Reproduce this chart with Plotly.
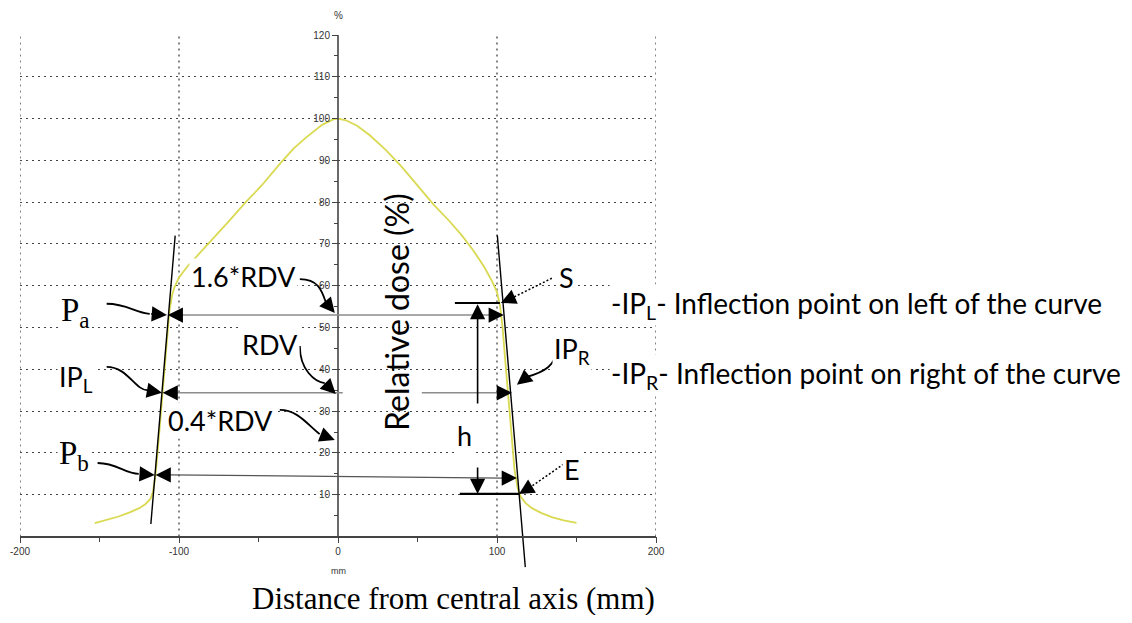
import plotly.graph_objects as go

# ---------------- data ----------------
pos_mm = [-153, -145, -138, -131, -125, -121, -118, -116.5, -115, -113.5, -112, -110.5,
          -109, -107.5, -106, -104.5, -103, -100, -95, -87, -78, -68, -58, -48, -37,
          -28, -20, -10, -3, 0, 5, 12, 20, 30, 40, 50, 60, 70, 78, 85, 92, 97, 100,
          102, 103.5, 105, 106.5, 108, 109.5, 111, 113, 115, 118, 122, 128, 135, 142, 150]
dose_pct = [3.2, 4.0, 4.8, 5.8, 6.8, 7.8, 9.0, 10.5, 14, 20, 27, 34,
            41, 48, 54, 57.5, 59.5, 62, 64.5, 67.8, 71.5, 75.7, 80, 84, 89,
            92.8, 95.5, 98.5, 99.8, 100, 99.6, 98.3, 96, 92.5, 88.5, 84, 79.5, 75.5, 72, 68.5, 64.5, 61, 58.5,
            55, 50, 43, 36, 29, 22, 16, 11.5, 9.5, 8, 6.8, 5.6, 4.6, 3.9, 3.3]

x_tick_vals = [-200, -100, 0, 100, 200]
x_tick_text = ["-200", "-100", "0", "100", "200"]
x_minor_vals = [-150, -50, 50, 150]
y_tick_vals = [10, 20, 30, 40, 50, 60, 70, 80, 90, 100, 110, 120]
y_tick_text = ["10", "20", "30", "40", "50", "60", "70", "80", "90", "100", "110", "120"]
y_minor_vals = [5, 15, 25, 35, 45, 55, 65, 75, 85, 95, 105, 115]
x_grid_vals = [-200, -100, 100, 200]

x_range = [-200, 200]
y_range = [-8, 120]

# tangent lines through the penumbra (x list, y list)
tangent_left_x = [-102.4, -117.7]
tangent_left_y = [72.0, 3.0]
tangent_right_x = [100.2, 117.8]
tangent_right_y = [72.1, -7.3]

# reference dose levels (%)
level_16 = 53.0      # 1.6*RDV
level_rdv = 34.4     # RDV
level_04 = [14.75, 14.0]  # 0.4*RDV (left, right end)
level_S = 55.9
level_E = 10.2

# ---------------- figure ----------------
fig = go.Figure()

fig.add_trace(go.Scatter(x=pos_mm, y=dose_pct, mode="lines",
                         line=dict(color="#d9d952", width=1.8), hoverinfo="skip"))
fig.add_trace(go.Scatter(x=tangent_left_x, y=tangent_left_y, mode="lines",
                         line=dict(color="black", width=1.4), hoverinfo="skip"))
fig.add_trace(go.Scatter(x=tangent_right_x, y=tangent_right_y, mode="lines",
                         line=dict(color="black", width=1.4), hoverinfo="skip"))

grid_dash = "2px,4px"

# vertical grid lines (from 0 to 120 only)
for gx in x_grid_vals:
    fig.add_shape(type="line", xref="x", yref="y", x0=gx, x1=gx, y0=0, y1=y_tick_vals[-1],
                  line=dict(color="#444", width=1.3, dash=grid_dash), layer="below")
# y axis line at x = 0
fig.add_shape(type="line", xref="x", yref="y", x0=0, x1=0, y0=0, y1=y_tick_vals[-1],
              line=dict(color="#444", width=1.6), layer="above")

gray = "#8c8c8c"
# gray horizontal measurement lines
fig.add_shape(type="line", xref="x", yref="y", x0=-98.3, x1=95.5, y0=level_16, y1=level_16,
              line=dict(color=gray, width=1.5))
fig.add_shape(type="line", xref="x", yref="y", x0=-101.5, x1=3.0, y0=level_rdv, y1=level_rdv,
              line=dict(color=gray, width=1.5))
fig.add_shape(type="line", xref="x", yref="y", x0=52.7, x1=100.6, y0=level_rdv, y1=level_rdv,
              line=dict(color=gray, width=1.5))
fig.add_shape(type="line", xref="x", yref="y", x0=-105.9, x1=103.7, y0=level_04[0], y1=level_04[1],
              line=dict(color="#555", width=1.3))

# black bars for h
fig.add_shape(type="line", xref="x", yref="y", x0=73.5, x1=101.8, y0=level_S, y1=level_S,
              line=dict(color="black", width=2))
fig.add_shape(type="line", xref="x", yref="y", x0=76.6, x1=113.8, y0=level_E, y1=level_E,
              line=dict(color="black", width=2.2))

# curved arrow bodies: (start, c1, c2, end)
curves = [
    [(-145.5, 55.7), (-132.2, 55.7), (-127.8, 53.5), (-118.4, 53.3)],   # Pa
    [(-145.5, 40.6), (-132.2, 40.6), (-127.8, 35.0), (-119.7, 35.0)],   # IPL
    [(-151.2, 17.6), (-138.6, 17.6), (-134.2, 15.0), (-125.3, 15.0)],   # Pb
    [(-24.0, 61.6), (-12.7, 61.6), (-10.2, 59.0), (-7.7, 56.1)],        # 1.6*RDV
    [(-24.0, 45.6), (-24.0, 39.9), (-14.6, 37.0), (-8.3, 36.7)],        # RDV
    [(-36.6, 30.3), (-25.3, 30.3), (-19.0, 26.7), (-11.5, 24.5)],       # 0.4*RDV
    [(137.8, 44.6), (136.5, 41.0), (130.2, 39.4), (118.8, 38.2)],       # IPR
]
for c in curves:
    p = "M {},{} C {},{} {},{} {},{}".format(c[0][0], c[0][1], c[1][0], c[1][1],
                                               c[2][0], c[2][1], c[3][0], c[3][1])
    fig.add_shape(type="path", xref="x", yref="y", path=p, line=dict(color="black", width=1.8))

# dotted arrow bodies (S and E)
dotted = [[(134.5, 61.8), (110.6, 57.3)], [(144.0, 17.9), (121.3, 11.9)]]
for d in dotted:
    fig.add_shape(type="line", xref="x", yref="y", x0=d[0][0], y0=d[0][1], x1=d[1][0], y1=d[1][1],
                  line=dict(color="black", width=1.5, dash="2px,2px"))

# arrow heads: (tip, base)
heads = [
    ((-107.6, 53.0), (-118.4, 53.3)),   # Pa from left
    ((-107.1, 53.0), (-98.3, 53.0)),    # Pa from right
    ((-110.7, 34.4), (-119.7, 35.0)),   # IPL from left
    ((-110.3, 34.4), (-101.5, 34.4)),   # IPL from right
    ((-115.3, 14.75), (-125.3, 15.0)),  # Pb from left
    ((-114.7, 14.75), (-105.9, 14.75)), # Pb from right
    ((-2.0, 53.5), (-7.7, 56.1)),       # 1.6*RDV
    ((-1.4, 34.1), (-8.3, 36.7)),       # RDV
    ((-2.0, 23.1), (-11.5, 24.5)),      # 0.4*RDV
    ((112.5, 36.3), (118.8, 38.2)),     # IPR curve
    ((104.3, 53.0), (95.5, 53.0)),      # 1.6*RDV line right end
    ((109.4, 34.4), (100.6, 34.4)),     # RDV line right end
    ((112.5, 14.0), (103.7, 14.0)),     # 0.4*RDV line right end
    ((102.4, 55.9), (110.6, 57.3)),     # S
    ((113.8, 10.2), (121.3, 11.9)),     # E
    ((87.8, 55.6), (87.8, 31.5)),       # h up
    ((87.8, 10.2), (87.8, 16.9)),       # h down
]
for tip, base in heads:
    fig.add_annotation(x=tip[0], y=tip[1], ax=base[0], ay=base[1], xref="x", yref="y",
                       axref="x", ayref="y", text="", showarrow=True, arrowhead=2,
                       arrowsize=1.9, arrowwidth=1.6, arrowcolor="black", standoff=0)

sans = "Lato"
serif = "Liberation Serif"
labels = [
    ("P<sub>a</sub>", -165.0, 53.7, serif, 33),
    ("IP<sub>L</sub>", -165.0, 37.9, sans, 27),
    ("P<sub>b</sub>", -166.0, 19.3, serif, 33),
    ("1.6*RDV", -59.3, 62.3, sans, 27),
    ("RDV", -42.9, 45.9, sans, 27),
    ("0.4*RDV", -73.7, 27.7, sans, 27),
    ("S", 143.4, 62.1, sans, 27),
    ("IP<sub>R</sub>", 147.1, 44.6, sans, 27),
    ("h", 79.8, 24.3, sans, 27),
    ("E", 147.1, 16.0, sans, 27),
]
for t, x, y, fam, sz in labels:
    fig.add_annotation(x=x, y=y, xref="x", yref="y", text=t, showarrow=False,
                       font=dict(family=fam, size=sz, color="black"), bgcolor="white")

fig.add_annotation(x=36.4, y=53.7, xref="x", yref="y", text="Relative dose (%)", textangle=-90,
                   showarrow=False, font=dict(family=sans, size=32, color="black"))

for t, y in [("-IP<sub>L</sub>- Inflection point on left of the curve", 55.4),
             ("-IP<sub>R</sub>- Inflection point on right of the curve", 38.7)]:
    fig.add_annotation(x=170.4, y=y, xref="x", yref="y", text=t, xanchor="left",
                       showarrow=False, font=dict(family=sans, size=28, color="black"),
                       bgcolor="white")

fig.add_annotation(x=0, y=1, xref="x", yref="paper", text="%", yanchor="bottom", yshift=12,
                   showarrow=False, font=dict(family="Liberation Sans", size=10, color="#333"))
fig.add_annotation(x=0, y=0, xref="x", yref="paper", text="mm", yanchor="middle", yshift=-1,
                   showarrow=False, font=dict(family="Liberation Sans", size=9, color="#333"))
fig.add_annotation(x=0.682, y=0, xref="paper", yref="paper", text="Distance from central axis (mm)",
                   xanchor="center", yanchor="middle", yshift=-28, showarrow=False,
                   font=dict(family=serif, size=31, color="black"))

tickfont = dict(family="Liberation Sans", size=10, color="#333")
# the page body adds an 8 px margin, so the figure is 16 px smaller than the window
fig.update_layout(
    width=1116, height=607,
    margin=dict(l=12, r=468, t=27, b=45, autoexpand=False),
    plot_bgcolor="white", paper_bgcolor="white",
    showlegend=False,
    xaxis=dict(range=x_range, showgrid=False, zeroline=False, showline=True, automargin=False,
               linecolor="#444", linewidth=1.6, anchor="free",
               position=(0 - y_range[0]) / (y_range[1] - y_range[0]),
               tickmode="array", tickvals=x_tick_vals, ticktext=x_tick_text,
               ticks="outside", ticklen=6, tickcolor="#444", tickwidth=1.3, tickfont=tickfont,
               minor=dict(tickmode="array", tickvals=x_minor_vals, ticks="outside",
                          ticklen=5, tickcolor="#444", showgrid=False)),
    yaxis=dict(range=y_range, showgrid=True, gridcolor="#444", gridwidth=1.3, griddash=grid_dash,
               zeroline=False, showline=False, anchor="free", automargin=False,
               position=(0 - x_range[0]) / (x_range[1] - x_range[0]),
               tickmode="array", tickvals=y_tick_vals, ticktext=y_tick_text,
               ticks="outside", ticklen=6, tickcolor="#444", tickwidth=1.3, tickfont=tickfont,
               minor=dict(tickmode="array", tickvals=y_minor_vals, ticks="outside",
                          ticklen=4, tickcolor="#444", showgrid=False)),
)

fig.write_html("out.html")
